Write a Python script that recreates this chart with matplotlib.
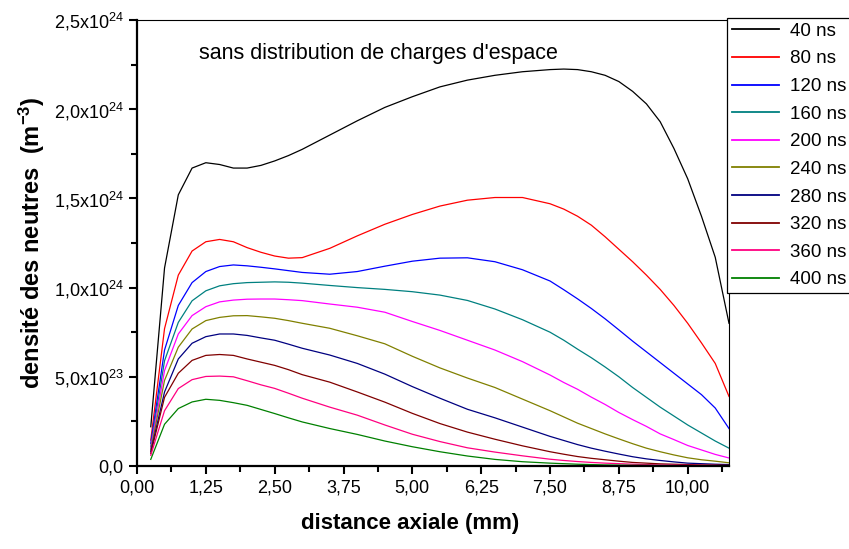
import matplotlib
matplotlib.use("Agg")
import matplotlib.pyplot as plt
import numpy as np

plt.rcParams['font.family'] = ['Liberation Sans', 'DejaVu Sans']
plt.rcParams['mathtext.fontset'] = 'custom'
plt.rcParams['mathtext.rm'] = 'Liberation Sans'
plt.rcParams['mathtext.it'] = 'Liberation Sans'
plt.rcParams['mathtext.bf'] = 'Liberation Sans:bold'

# distance axiale (mm)
x_mm = [0.25, 0.5, 0.75, 1.0, 1.25, 1.5, 1.75, 2.0, 2.25, 2.5, 2.75, 3.0,
        3.5, 4.0, 4.5, 5.0, 5.5, 6.0, 6.5, 7.0, 7.5,
        7.75, 8.0, 8.25, 8.5, 8.75, 9.0, 9.25, 9.5, 9.75, 10.0, 10.25, 10.5, 10.75]

# densite des neutres, en unites de 1e24 m^-3
n40 = [0.22, 1.11, 1.52, 1.67, 1.70, 1.69, 1.67, 1.67, 1.685, 1.71, 1.74, 1.775,
       1.855, 1.935, 2.01, 2.07, 2.125, 2.163, 2.19, 2.21, 2.222,
       2.225, 2.222, 2.21, 2.19, 2.155, 2.10, 2.03, 1.93, 1.78, 1.61, 1.40, 1.17, 0.80]
n80 = [0.145, 0.77, 1.07, 1.205, 1.257, 1.27, 1.257, 1.224, 1.198, 1.177, 1.165, 1.168,
       1.22, 1.29, 1.355, 1.41, 1.457, 1.49, 1.505, 1.505, 1.47,
       1.44, 1.40, 1.35, 1.285, 1.215, 1.145, 1.07, 0.99, 0.90, 0.80, 0.69, 0.575, 0.39]
n120 = [0.127, 0.65, 0.90, 1.028, 1.09, 1.118, 1.127, 1.122, 1.114, 1.105, 1.095, 1.085,
        1.075, 1.09, 1.12, 1.148, 1.165, 1.167, 1.145, 1.10, 1.037,
        0.988, 0.937, 0.883, 0.825, 0.763, 0.70, 0.64, 0.58, 0.52, 0.46, 0.40, 0.325, 0.21]
n160 = [0.11, 0.59, 0.805, 0.926, 0.982, 1.01, 1.022, 1.028, 1.03, 1.032, 1.03, 1.025,
        1.012, 1.0, 0.99, 0.977, 0.958, 0.928, 0.88, 0.82, 0.75,
        0.705, 0.655, 0.607, 0.555, 0.50, 0.44, 0.385, 0.33, 0.28, 0.23, 0.185, 0.14, 0.10]
n200 = [0.10, 0.535, 0.74, 0.843, 0.893, 0.92, 0.93, 0.935, 0.936, 0.936, 0.932, 0.927,
        0.908, 0.89, 0.862, 0.81, 0.76, 0.705, 0.65, 0.585, 0.51,
        0.468, 0.43, 0.386, 0.345, 0.30, 0.26, 0.222, 0.18, 0.148, 0.115, 0.09, 0.065, 0.045]
n240 = [0.09, 0.48, 0.666, 0.768, 0.815, 0.833, 0.842, 0.843, 0.836, 0.828, 0.815, 0.80,
        0.772, 0.73, 0.685, 0.615, 0.55, 0.493, 0.44, 0.375, 0.31,
        0.275, 0.24, 0.21, 0.18, 0.152, 0.125, 0.10, 0.08, 0.062, 0.046, 0.035, 0.027, 0.018]
n280 = [0.08, 0.415, 0.60, 0.688, 0.725, 0.74, 0.74, 0.732, 0.718, 0.705, 0.683, 0.66,
        0.622, 0.575, 0.515, 0.445, 0.38, 0.318, 0.27, 0.218, 0.166,
        0.143, 0.12, 0.10, 0.083, 0.067, 0.052, 0.04, 0.031, 0.023, 0.016, 0.013, 0.01, 0.008]
n320 = [0.07, 0.385, 0.52, 0.592, 0.62, 0.625, 0.62, 0.60, 0.582, 0.564, 0.54, 0.512,
        0.47, 0.415, 0.358, 0.295, 0.238, 0.19, 0.15, 0.113, 0.08,
        0.066, 0.053, 0.043, 0.035, 0.027, 0.02, 0.016, 0.012, 0.01, 0.008, 0.006, 0.005, 0.004]
n360 = [0.06, 0.31, 0.434, 0.484, 0.502, 0.504, 0.50, 0.478, 0.455, 0.435, 0.408, 0.38,
        0.33, 0.285, 0.23, 0.178, 0.137, 0.102, 0.078, 0.057, 0.038,
        0.031, 0.025, 0.02, 0.016, 0.013, 0.01, 0.008, 0.006, 0.005, 0.004, 0.0035, 0.003, 0.002]
n400 = [0.037, 0.234, 0.322, 0.359, 0.374, 0.368, 0.355, 0.34, 0.317, 0.294, 0.27, 0.247,
        0.21, 0.177, 0.14, 0.108, 0.08, 0.056, 0.037, 0.024, 0.016,
        0.013, 0.01, 0.008, 0.006, 0.005, 0.004, 0.0035, 0.003, 0.0025, 0.002, 0.0015, 0.001, 0.001]

series = [n40, n80, n120, n160, n200, n240, n280, n320, n360, n400]
labels = ['40 ns', '80 ns', '120 ns', '160 ns', '200 ns',
          '240 ns', '280 ns', '320 ns', '360 ns', '400 ns']
colors = ['#000000', '#FF0000', '#0000FF', '#008080', '#FF00FF',
          '#808000', '#000080', '#800000', '#FF0080', '#008000']

xticks = [0, 1.25, 2.5, 3.75, 5.0, 6.25, 7.5, 8.75, 10.0]
xtick_labels = ['0,00', '1,25', '2,50', '3,75', '5,00', '6,25', '7,50', '8,75', '10,00']
yticks = [0, 0.5e24, 1.0e24, 1.5e24, 2.0e24, 2.5e24]
ytick_labels = ['0,0', '5,0x10$^{23}$', '1,0x10$^{24}$', '1,5x10$^{24}$',
                '2,0x10$^{24}$', '2,5x10$^{24}$']

fig = plt.figure(figsize=(8.49, 5.49), dpi=100)
ax = fig.add_axes([137/849, 1-466/549, (729-137)/849, (466-20)/549])

for vals, lab, c in zip(series, labels, colors):
    ax.plot(x_mm, np.array(vals)*1e24, color=c, lw=0.9, label=lab)

ax.set_xlim(0, 10.75)
ax.set_ylim(0, 2.5e24)
ax.set_xticks(xticks)
ax.set_xticklabels(xtick_labels)
ax.set_xticks(np.arange(0.625, 10.75, 1.25), minor=True)
ax.set_yticks(yticks)
ax.set_yticklabels(ytick_labels)
ax.set_yticks(np.arange(0.25e24, 2.5e24, 0.5e24), minor=True)

ax.tick_params(which='both', direction='out', width=1.5, labelsize=13, top=False, right=False)
ax.tick_params(which='major', length=6)
ax.tick_params(which='minor', length=4)
ax.spines['left'].set_linewidth(1.6)
ax.spines['bottom'].set_linewidth(1.6)
ax.spines['top'].set_linewidth(0.8)
ax.spines['right'].set_linewidth(0.8)

ax.set_xlabel('distance axiale (mm)', fontsize=16, fontweight='bold', labelpad=14)
ax.xaxis.set_label_coords(0.462, -0.105)
ax.set_ylabel('densité des neutres  (m$^{\\mathbf{-3}}$)', fontsize=17, fontweight='bold', labelpad=5)

ax.text(0.105, 0.926, "sans distribution de charges d'espace", transform=ax.transAxes,
        fontsize=15.5, va='center', ha='left')

leg = fig.legend(loc='upper left', bbox_to_anchor=(727/849, 1-18/549), fontsize=13.5,
                 frameon=True, fancybox=False, framealpha=1, edgecolor='black',
                 handlelength=2.5, handletextpad=0.6, borderpad=0.25, labelspacing=0.56,
                 borderaxespad=0)
leg.get_frame().set_linewidth(0.9)
for line in leg.get_lines():
    line.set_linewidth(1.3)

fig.savefig('out.png', dpi=100)
